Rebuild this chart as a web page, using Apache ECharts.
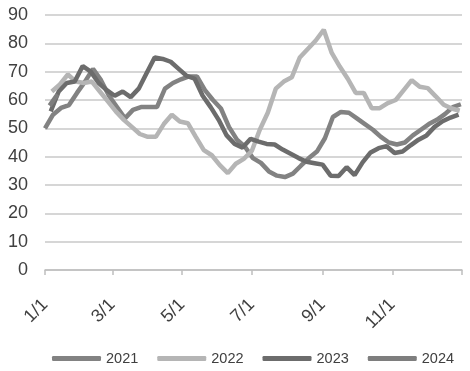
<!DOCTYPE html>
<html>
<head>
<meta charset="utf-8">
<script src="https://cdn.jsdelivr.net/npm/echarts@6/dist/echarts.min.js"></script>
<style>
html,body{margin:0;padding:0;background:#fff;}
#chart{width:470px;height:371px;}
</style>
</head>
<body>
<div id="chart"></div>
<script>
// ---- data ----
const years = ['2021', '2022', '2023', '2024'];
const firstWeekDates = ['2021-01-01', '2022-01-07', '2023-01-06', '2024-01-05'];
const seriesColors = ['#828282', '#b5b5b5', '#6c6c6c', '#7e7e7e'];

const values2021 = [50, 54.8, 57.2, 58.2, 62.5, 66.5, 71, 67, 61.5, 57.5,
  53.5, 56.5, 57.5, 57.5, 57.5, 64, 66, 67.3, 68.3, 68.3,
  63.5, 60, 57, 50.5, 46, 43.5, 39.5, 37.8, 34.8, 33.3,
  32.8, 34, 36.8, 39.5, 41.8, 46.5, 54, 55.8, 55.5, 53.5,
  51.5, 49.5, 47, 45, 44.3, 45, 47.5, 49.5, 51.5, 53,
  55, 57.5, 58.5];
const values2022 = [63, 65.5, 69, 66.5, 66, 66.5, 63, 59.5, 56, 53,
  50.5, 48, 47, 47, 51.5, 54.8, 52.4, 51.8, 47, 42.3,
  40.5, 37, 34.2, 37.5, 39.2, 42, 49.5, 55.5, 64, 66.5,
  68, 75, 78, 81, 84.8, 76.6, 71.8, 67.5, 62.5, 62.5,
  57.1, 57.1, 58.9, 60, 63.5, 67, 64.7, 64.2, 61.3, 58.3,
  57, 56.2];
const values2023 = [56, 63, 66, 66.5, 72, 70, 66, 63.5, 61.5, 63,
  61, 64, 69.5, 75, 74.5, 73.5, 71, 68.5, 67.5, 61.5,
  57.5, 53, 47.5, 44.5, 43.2, 46.3, 45.3, 44.5, 44.3, 42.5,
  41, 39.5, 38.2, 37.7, 37.2, 33.3, 33.2, 36.3, 33.5, 38,
  41.5, 43, 43.7, 41.3, 41.8, 44, 46, 47.5, 50.5, 52.5,
  53.8, 54.8];
const values2024 = [58, 62];

const tickDates = ['1/1', '3/1', '5/1', '7/1', '9/1', '11/1', '1/1+'];
const tickLabels = ['1/1', '3/1', '5/1', '7/1', '9/1', '11/1', ''];

// ---- helpers ----
function dayOfYearFromMD(md) {
  const next = md.endsWith('+');
  const [m, d] = md.replace('+', '').split('/').map(Number);
  const y = next ? 2022 : 2021;
  return Math.round((Date.UTC(y, m - 1, d) - Date.UTC(2021, 0, 1)) / 86400000);
}
function dayOfYearFromISO(iso) {
  const [y, m, d] = iso.split('-').map(Number);
  return Math.round((Date.UTC(y, m - 1, d) - Date.UTC(y, 0, 1)) / 86400000);
}
const tickDays = tickDates.map(dayOfYearFromMD);
const labelDays = tickDays.slice(0, 6);
const labelByDay = {};
tickDays.forEach((d, i) => { labelByDay[d] = tickLabels[i]; });

const allValues = [values2021, values2022, values2023, values2024];
const series = years.map((yr, i) => {
  const start = dayOfYearFromISO(firstWeekDates[i]);
  return {
    name: yr,
    type: 'line',
    data: allValues[i].map((v, k) => [start + 7 * k, v]),
    showSymbol: false,
    symbol: 'none',
    lineStyle: { width: 4.5, color: seriesColors[i] },
    itemStyle: { color: seriesColors[i] },
    emphasis: { disabled: true }
  };
});

const chart = echarts.init(document.getElementById('chart'), null, { renderer: 'canvas' });
chart.setOption({
  animation: false,
  backgroundColor: '#ffffff',
  textStyle: { fontFamily: 'Liberation Sans, Arial, sans-serif' },
  grid: { left: 45, right: 8, top: 15, bottom: 101, containLabel: false },
  legend: {
    data: years,
    left: 47,
    top: 346,
    icon: 'roundRect',
    itemWidth: 49,
    itemHeight: 5,
    itemGap: 19,
    textStyle: { fontSize: 14.5, color: '#404040', fontFamily: 'Liberation Sans, Arial, sans-serif' }
  },
  xAxis: {
    type: 'value',
    min: 0,
    max: 365,
    axisLine: { show: true, lineStyle: { color: '#bfbfbf', width: 1.5 } },
    axisTick: { show: true, length: 5, customValues: tickDays, lineStyle: { color: '#bfbfbf', width: 1.5 } },
    axisLabel: {
      customValues: labelDays,
      formatter: v => labelByDay[Math.round(v)] || '',
      rotate: 45,
      fontSize: 18,
      color: '#404040',
      margin: 32,
      padding: [0, 0, 0, 0]
    },
    splitLine: { show: false }
  },
  yAxis: {
    type: 'value',
    min: 0,
    max: 90,
    interval: 10,
    axisLine: { show: false },
    axisTick: { show: false },
    axisLabel: { fontSize: 18, color: '#404040', margin: 17 },
    splitLine: { lineStyle: { color: '#c8c8c8', width: 1.5 } }
  },
  series: series
});
</script>
</body>
</html>
